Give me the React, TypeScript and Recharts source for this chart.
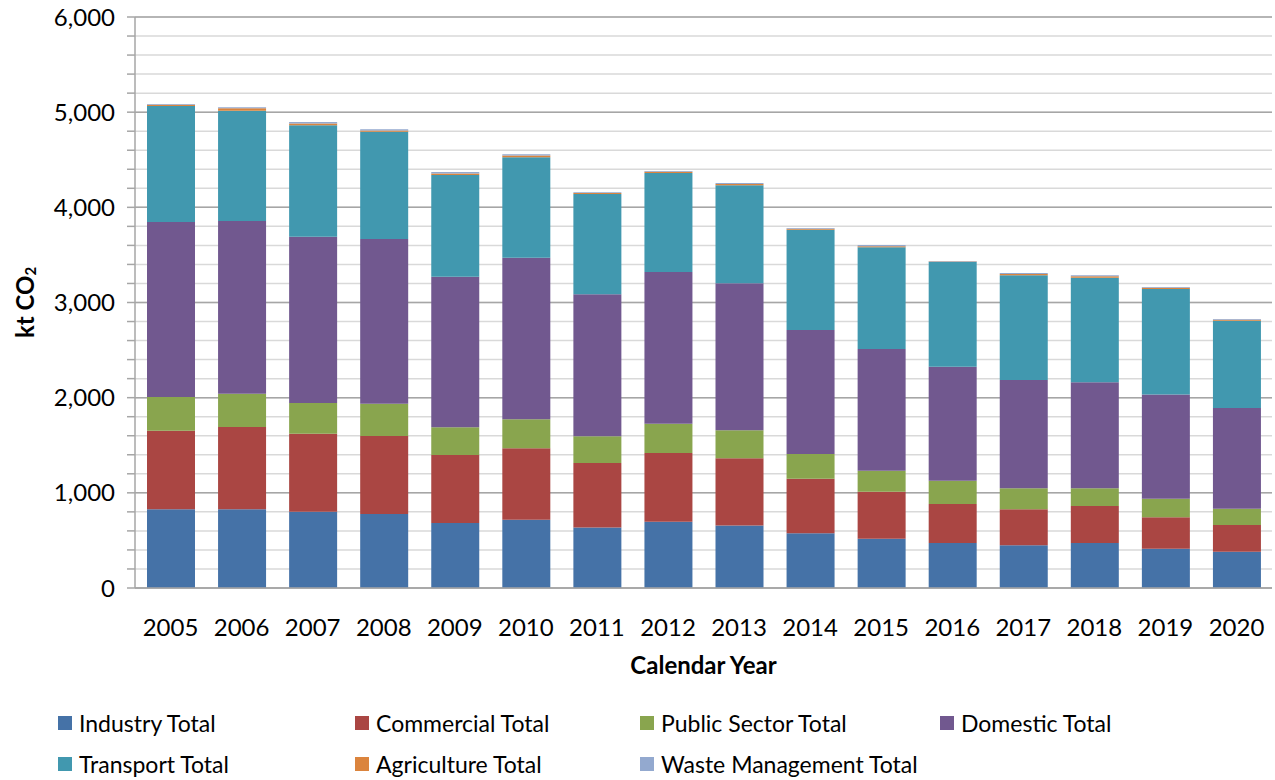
import { Bar, BarChart, CartesianGrid, Legend, XAxis, YAxis } from "recharts";

const years = ["2005", "2006", "2007", "2008", "2009", "2010", "2011", "2012", "2013", "2014", "2015", "2016", "2017", "2018", "2019", "2020"];

const industry = [827, 827, 800, 778, 683, 718, 637, 697, 658, 574, 518, 473, 448, 473, 413, 382];
const commercial = [826, 865, 822, 819, 714, 750, 676, 721, 705, 575, 494, 410, 379, 389, 330, 280];
const publicSector = [354, 348, 323, 338, 291, 304, 281, 309, 294, 259, 221, 245, 220, 185, 196, 172];
const domestic = [1839, 1816, 1746, 1732, 1583, 1699, 1492, 1593, 1545, 1303, 1278, 1197, 1139, 1114, 1094, 1057];
const transport = [1219, 1159, 1171, 1128, 1069, 1054, 1054, 1041, 1029, 1054, 1069, 1100, 1100, 1100, 1109, 918];
const agriculture = [12, 25, 20, 12, 16, 20, 10, 13, 15, 10, 12, 5, 14, 15, 12, 10];
const wasteManagement = [8, 11, 15, 13, 15, 12, 8, 8, 10, 8, 12, 6, 10, 10, 9, 8];

const yTicks = [0, 200, 400, 600, 800, 1000, 1200, 1400, 1600, 1800, 2000, 2200, 2400, 2600, 2800, 3000, 3200, 3400, 3600, 3800, 4000, 4200, 4400, 4600, 4800, 5000, 5200, 5400, 5600, 5800, 6000];
const majorTicks = [0, 1000, 2000, 3000, 4000, 5000, 6000];
const boundaries = years.map((_, i) => i).concat([years.length]);

const series = [
  { key: "industry", label: "Industry Total", color: "#4572A7", values: industry },
  { key: "commercial", label: "Commercial Total", color: "#AA4643", values: commercial },
  { key: "publicSector", label: "Public Sector Total", color: "#89A54E", values: publicSector },
  { key: "domestic", label: "Domestic Total", color: "#71588F", values: domestic },
  { key: "transport", label: "Transport Total", color: "#4198AF", values: transport },
  { key: "agriculture", label: "Agriculture Total", color: "#DB843D", values: agriculture },
  { key: "waste", label: "Waste Management Total", color: "#93A9CF", values: wasteManagement },
];

const data = years.map((year, i) => {
  const row: Record<string, any> = { year, pos: i + 0.5 };
  series.forEach((s) => (row[s.key] = s.values[i]));
  return row;
});

const FONT = "Lato, 'Open Sans', sans-serif";

const legendCols = [58, 355, 640, 940];

const renderLegend = () => (
  <div style={{ position: "relative", width: 1275, height: 80, fontFamily: FONT }}>
    {series.map((s, i) => (
      <div
        key={s.key}
        style={{
          position: "absolute",
          left: legendCols[i % 4],
          top: i < 4 ? 11 : 52,
          height: 32,
          display: "flex",
          alignItems: "center",
          fontSize: 23,
          color: "#000",
          whiteSpace: "nowrap",
        }}
      >
        <span style={{ width: 14, height: 14, background: s.color, marginRight: 7, display: "inline-block" }} />
        {s.label}
      </div>
    ))}
  </div>
);

const YLabel = (props: any) => {
  const { viewBox } = props;
  const cx = viewBox.x + 24;
  const cy = viewBox.y + viewBox.height / 2;
  return (
    <text
      x={cx}
      y={cy}
      transform={`rotate(-90, ${cx}, ${cy})`}
      textAnchor="middle"
      dominantBaseline="central"
      fontFamily={FONT}
      fontWeight="bold"
      fontSize={24}
      fill="#000"
    >
      <tspan>kt CO</tspan>
      <tspan dy={6} fontSize={15}>2</tspan>
    </text>
  );
};

// "a" axis = boundary ticks/gridlines, "b" axis = year labels for the bars
export default function App() {
  return (
    <div style={{ position: "absolute", left: 0, top: 0, width: 1275, height: 780, background: "#fff" }}>
      <BarChart
        width={1275}
        height={780}
        data={data}
        margin={{ top: 17, right: 3, left: 0, bottom: 4 }}
        barSize={48}
      >
        <CartesianGrid
          xAxisId="a"
          horizontalValues={yTicks}
          vertical={false}
          stroke="#D9D9D9"
          strokeWidth={1.5}
        />
        <CartesianGrid
          xAxisId="a"
          horizontalValues={majorTicks}
          verticalValues={boundaries}
          stroke="#A6A6A6"
          strokeWidth={1.5}
        />
        <XAxis
          xAxisId="a"
          type="number"
          dataKey="pos"
          domain={[0, years.length]}
          ticks={boundaries}
          tick={false}
          tickSize={8}
          height={8}
          axisLine={{ stroke: "#A6A6A6", strokeWidth: 1.5 }}
          tickLine={{ stroke: "#A6A6A6", strokeWidth: 1.5 }}
          interval={0}
        />
        <XAxis
          xAxisId="b"
          dataKey="year"
          height={100}
          axisLine={false}
          tickLine={false}
          interval={0}
          tick={{ fontFamily: FONT, fontSize: 24, fill: "#000" }}
          tickMargin={17}
          label={{
            value: "Calendar Year",
            position: "insideBottom",
            offset: 22,
            fontFamily: FONT,
            fontWeight: "bold",
            fontSize: 24,
            fill: "#000",
          }}
        />
        <YAxis
          width={135}
          domain={[0, 6000]}
          ticks={yTicks}
          interval={0}
          tickSize={8}
          tickMargin={12}
          axisLine={{ stroke: "#A6A6A6", strokeWidth: 1.5 }}
          tickLine={{ stroke: "#A6A6A6", strokeWidth: 1.5 }}
          tickFormatter={(v: number) => (v % 1000 === 0 ? v.toLocaleString("en-US") : "")}
          tick={{ fontFamily: FONT, fontSize: 24, fill: "#000" }}
          label={{ content: YLabel }}
        />
        <Legend verticalAlign="bottom" content={renderLegend} wrapperStyle={{ left: 0, width: 1275 }} />
        {series.map((s) => (
          <Bar
            key={s.key}
            xAxisId="b"
            dataKey={s.key}
            name={s.label}
            stackId="a"
            fill={s.color}
            isAnimationActive={false}
          />
        ))}
      </BarChart>
    </div>
  );
}
